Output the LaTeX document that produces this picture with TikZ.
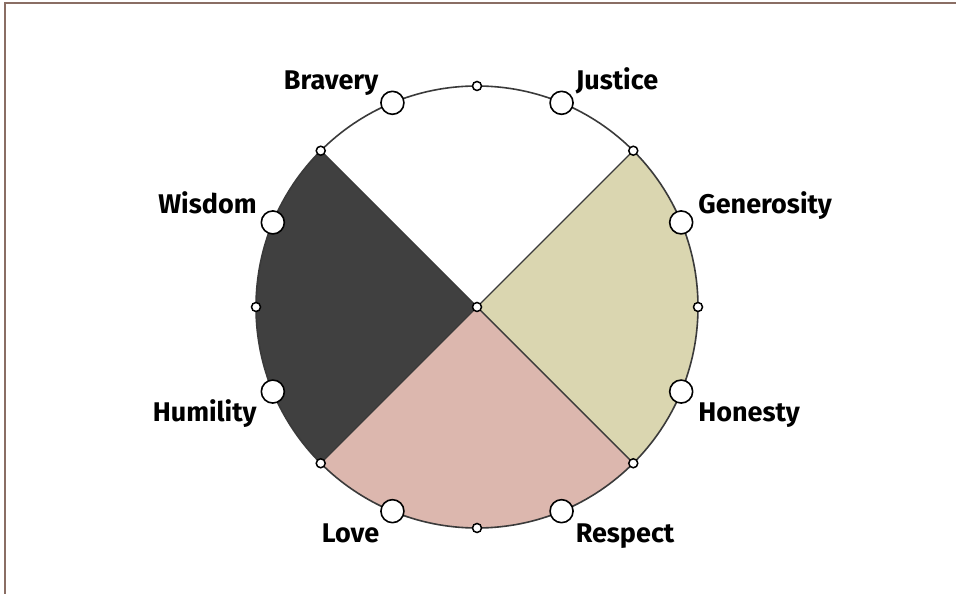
\documentclass[tikz,border=0pt]{standalone}
\usepackage{fontspec}
\setmainfont{Fira Sans}
\usepackage{tikz}
\usetikzlibrary{positioning,calc}
\definecolor{wheelline}{HTML}{3A3A3A}
\definecolor{darkq}{HTML}{404040}
\definecolor{beigeq}{HTML}{DAD6B0}
\definecolor{pinkq}{HTML}{DCB7AE}
\definecolor{framec}{HTML}{8A6E64}

\begin{document}
\begin{tikzpicture}[
  x=1pt, y=1pt,
  rim/.style={draw=wheelline, line width=1.6pt},
  spoke/.style={draw=wheelline, line width=1.4pt},
  dot/.style={circle, draw=black, fill=white, line width=1.5pt,
    minimum size=9pt, inner sep=0pt},
  bigdot/.style={circle, draw=black, fill=white, line width=1.6pt,
    minimum size=23pt, inner sep=0pt},
  lbl/.style={font=\fontsize{27}{30}\selectfont\bfseries, inner sep=0pt}
]
\useasboundingbox (0,0) rectangle (956,594);

% Frame
\draw[framec, line width=2.6pt] (5,0) -- (5,591) -- (956,591);

% Wheel
\coordinate (c) at (477,287);
\fill[darkq] (c) -- +(135:221) arc (135:225:221) -- cycle;
\fill[pinkq] (c) -- +(225:221) arc (225:315:221) -- cycle;
\fill[beigeq] (c) -- +(315:221) arc (315:405:221) -- cycle;
\draw[spoke] ($(c)+(45:221)$) -- (c) -- ($(c)+(135:221)$);
\draw[spoke] ($(c)+(225:221)$) -- (c) -- ($(c)+(315:221)$);
\draw[rim] (c) circle[radius=221];

% Small markers
\foreach \a in {0,45,...,315}
  \node[dot] at ($(c)+(\a:221)$) {};
\node[dot] (ctr) at (c) {};

% Virtue markers
\node[bigdot] (jus) at ($(c)+(67.5:221)$) {};
\node[bigdot] (brv) at ($(c)+(112.5:221)$) {};
\node[bigdot] (wis) at ($(c)+(157.5:221)$) {};
\node[bigdot] (hum) at ($(c)+(202.5:221)$) {};
\node[bigdot] (lov) at ($(c)+(247.5:221)$) {};
\node[bigdot] (res) at ($(c)+(292.5:221)$) {};
\node[bigdot] (hon) at ($(c)+(337.5:221)$) {};
\node[bigdot] (gen) at ($(c)+(22.5:221)$) {};

% Labels
\node[lbl, anchor=base east] at ([shift={(-14,13)}]brv.center) {Bravery};
\node[lbl, anchor=base west] at ([shift={(14,13)}]jus.center) {Justice};
\node[lbl, anchor=base east] at ([shift={(-16,9)}]wis.center) {Wisdom};
\node[lbl, anchor=base west] at ([shift={(17,9)}]gen.center) {Generosity};
\node[lbl, anchor=base east] at ([shift={(-16,-30)}]hum.center) {Humility};
\node[lbl, anchor=base west] at ([shift={(17,-30)}]hon.center) {Honesty};
\node[lbl, anchor=base east] at ([shift={(-13,-31)}]lov.center) {Love};
\node[lbl, anchor=base west] at ([shift={(14,-31)}]res.center) {Respect};

\end{tikzpicture}
\end{document}
